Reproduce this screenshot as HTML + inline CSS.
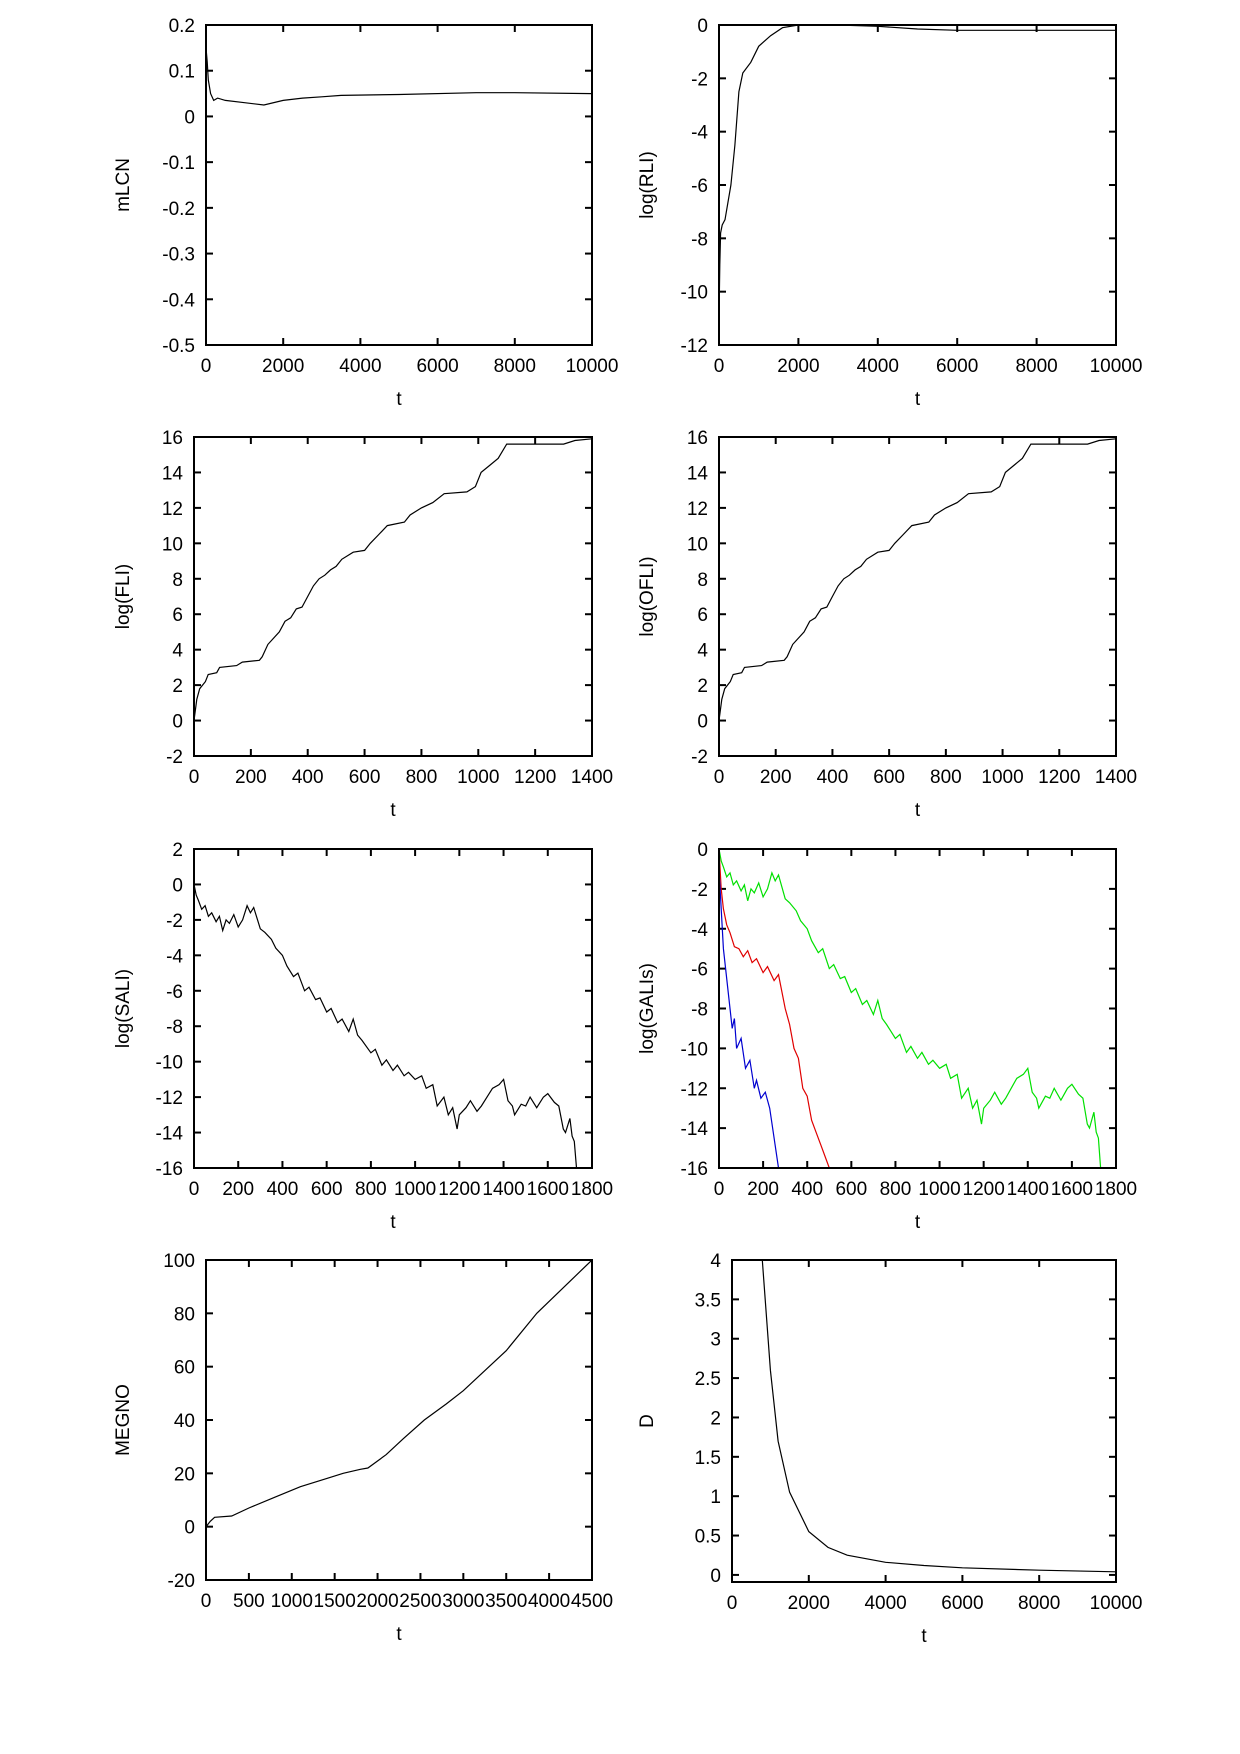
<!DOCTYPE html>
<html><head><meta charset="utf-8"><style>
body{margin:0;background:#fff;}
svg{display:block;font-family:"Liberation Sans",sans-serif;}
</style></head><body>
<svg id="fig" width="1240" height="1754" viewBox="0 0 1240 1754" xmlns="http://www.w3.org/2000/svg"></svg>
<script>
const mlcnT=[0,30,60,120,200,300,500,1000,1500,2000,2500,3000,3500,5000,7000,8000,10000];
const mlcnV=[0.15,0.12,0.08,0.05,0.035,0.04,0.035,0.03,0.025,0.035,0.04,0.043,0.046,0.048,0.052,0.052,0.05];
const rliT=[0,20,40,80,150,300,400,500,600,800,1000,1300,1600,2000,3000,4000,5000,6000,10000];
const rliV=[-11,-9,-7.8,-7.5,-7.3,-6,-4.5,-2.5,-1.8,-1.4,-0.8,-0.4,-0.1,0,0,-0.05,-0.15,-0.2,-0.2];
const fliT=[0,10,20,40,50,80,90,150,170,230,240,260,300,320,340,360,380,400,420,440,460,480,500,520,560,600,620,650,680,740,760,800,840,880,960,990,1010,1040,1070,1100,1300,1340,1400];
const fliV=[0,1.2,1.8,2.2,2.6,2.7,3,3.1,3.3,3.4,3.6,4.3,5,5.6,5.8,6.3,6.4,7,7.6,8,8.2,8.5,8.7,9.1,9.5,9.6,10,10.5,11,11.2,11.6,12,12.3,12.8,12.9,13.2,14,14.4,14.8,15.6,15.6,15.8,15.9];
const ofliV=[0,1.2,1.8,2.2,2.6,2.7,3,3.1,3.3,3.4,3.6,4.3,5,5.6,5.8,6.3,6.4,7,7.6,8,8.2,8.5,8.7,9.1,9.5,9.6,10,10.5,11,11.2,11.6,12,12.3,12.8,12.9,13.2,14,14.4,14.8,15.6,15.6,15.8,15.9];
const saliT=[0,10,20,35,50,65,80,100,115,130,145,160,180,200,220,240,255,270,290,300,320,350,370,400,420,450,470,500,520,550,570,600,620,650,670,700,720,740,760,800,820,850,870,900,920,950,970,1000,1030,1050,1080,1100,1130,1150,1170,1190,1200,1230,1250,1280,1300,1330,1350,1380,1400,1420,1440,1450,1480,1500,1520,1550,1580,1600,1630,1650,1670,1680,1700,1710,1720,1730];
const saliV=[0,-0.6,-0.9,-1.4,-1.2,-1.8,-1.6,-2.1,-1.8,-2.6,-2.0,-2.2,-1.7,-2.4,-2.0,-1.2,-1.6,-1.3,-2.1,-2.5,-2.7,-3.1,-3.6,-4.0,-4.6,-5.2,-5.0,-6.0,-5.8,-6.5,-6.4,-7.2,-7.0,-7.8,-7.6,-8.3,-7.6,-8.5,-8.8,-9.5,-9.3,-10.2,-9.9,-10.5,-10.2,-10.8,-10.6,-11.0,-10.8,-11.5,-11.3,-12.5,-12.0,-13.0,-12.6,-13.8,-13.0,-12.6,-12.2,-12.8,-12.5,-11.9,-11.5,-11.3,-11.0,-12.2,-12.5,-13.0,-12.4,-12.5,-12.0,-12.6,-12.0,-11.8,-12.3,-12.5,-13.8,-14.0,-13.2,-14.2,-14.5,-16];
const galiGreenT=saliT;
const galiGreenV=[0,-0.6,-0.9,-1.4,-1.2,-1.8,-1.6,-2.1,-1.8,-2.6,-2.0,-2.2,-1.7,-2.4,-2.0,-1.2,-1.6,-1.3,-2.1,-2.5,-2.7,-3.1,-3.6,-4.0,-4.6,-5.2,-5.0,-6.0,-5.8,-6.5,-6.4,-7.2,-7.0,-7.8,-7.6,-8.3,-7.6,-8.5,-8.8,-9.5,-9.3,-10.2,-9.9,-10.5,-10.2,-10.8,-10.6,-11.0,-10.8,-11.5,-11.3,-12.5,-12.0,-13.0,-12.6,-13.8,-13.0,-12.6,-12.2,-12.8,-12.5,-11.9,-11.5,-11.3,-11.0,-12.2,-12.5,-13.0,-12.4,-12.5,-12.0,-12.6,-12.0,-11.8,-12.3,-12.5,-13.8,-14.0,-13.2,-14.2,-14.5,-16];
const galiRedT=[0,10,20,35,50,70,90,110,130,150,170,200,220,250,270,300,320,340,360,380,400,420,440,460,480,500];
const galiRedV=[0,-2,-3,-3.8,-4.2,-4.9,-5.0,-5.4,-5.1,-5.7,-5.5,-6.2,-5.9,-6.6,-6.3,-8.0,-8.8,-10.0,-10.5,-12.0,-12.4,-13.6,-14.2,-14.8,-15.4,-16];
const galiBlueT=[0,10,20,30,45,60,70,80,100,120,140,160,170,190,210,230,250,270];
const galiBlueV=[-1,-3,-5,-6,-7.5,-9,-8.5,-10,-9.5,-11,-10.6,-12,-11.6,-12.5,-12.2,-13,-14.5,-16];
const megnoT=[0,50,100,300,500,800,1100,1400,1600,1800,1888,2100,2300,2545,2800,3000,3500,3857,4500];
const megnoV=[0,2,3.5,4,7,11,15,18,20,21.5,22,27,33,40,46,51,66,80,100];
const dT=[790,1000,1200,1500,2000,2500,3000,4000,5000,6000,8000,10000];
const dV=[4,2.6,1.7,1.05,0.55,0.35,0.25,0.16,0.12,0.09,0.06,0.04];

const NS="http://www.w3.org/2000/svg";
const fig=document.getElementById('fig');
function mk(tag,attrs,parent){const e=document.createElementNS(NS,tag);for(const k in attrs)e.setAttribute(k,attrs[k]);(parent||fig).appendChild(e);return e;}

function plot(cfg){
  const g=mk('g',{});
  
  
  const {x0,x1,y0,y1,xmin,xmax,ymin,ymax}=cfg;
  const sx=v=>x0+(v-xmin)/(xmax-xmin)*(x1-x0);
  const sy=v=>y1-(v-ymin)/(ymax-ymin)*(y1-y0);
  cfg.xticks.forEach(t=>{
    const X=sx(t);
    mk('line',{x1:X,y1:y1,x2:X,y2:y1-7,stroke:'#000','stroke-width':2},g);
    mk('line',{x1:X,y1:y0,x2:X,y2:y0+7,stroke:'#000','stroke-width':2},g);
    const tx=mk('text',{x:X,y:y1+27,'text-anchor':'middle','font-size':19},g);
    
    
    tx.textContent=String(t);
  });
  cfg.yticks.forEach(t=>{
    const Y=sy(t);
    mk('line',{x1:x0,y1:Y,x2:x0+7,y2:Y,stroke:'#000','stroke-width':2},g);
    mk('line',{x1:x1,y1:Y,x2:x1-7,y2:Y,stroke:'#000','stroke-width':2},g);
    const tx=mk('text',{x:x0-11,y:Y+7,'text-anchor':'end','font-size':19},g);
    
    
    tx.textContent=String(t);
  });
  const clipId='c'+cfg.name;
  const cp=mk('clipPath',{id:clipId},g);
  mk('rect',{x:x0,y:y0,width:x1-x0,height:y1-y0},cp);
  cfg.series.forEach(s=>{
    const d=s.t.map((t,i)=>(i?'L':'M')+sx(t).toFixed(1)+','+sy(s.v[i]).toFixed(1)).join('');
    const p=mk('path',{d:d,fill:'none',stroke:s.color,'stroke-width':1.2,'clip-path':'url(#'+clipId+')'},g);
    
    
  });
  const r=mk('rect',{x:x0,y:y0,width:x1-x0,height:y1-y0,fill:'none',stroke:'#000','stroke-width':2},g);
  
  
  const xl=mk('text',{x:(x0+x1)/2,y:y1+60,'text-anchor':'middle','font-size':19},g);
  
  
  xl.textContent='t';
  const ly=(y0+y1)/2, lx=cfg.labelX;
  const yl=mk('text',{x:lx,y:ly,'text-anchor':'middle','font-size':19,transform:'rotate(-90 '+lx+' '+ly+')'},g);
  
  
  yl.textContent=cfg.ylabel;
}
const rng=(a,b,s)=>{const r=[];for(let v=a;v<=b+1e-9;v+=s)r.push(Math.round(v*10)/10);return r;};

plot({name:'mlcn',x0:206,x1:592,y0:25,y1:345,xmin:0,xmax:10000,ymin:-0.5,ymax:0.2,xticks:rng(0,10000,2000),yticks:[0.2,0.1,0,-0.1,-0.2,-0.3,-0.4,-0.5],ylabel:'mLCN',labelX:129,series:[{t:mlcnT,v:mlcnV,color:'#000',name:'mlcn-line'}]});
plot({name:'rli',x0:719,x1:1116,y0:25,y1:345,xmin:0,xmax:10000,ymin:-12,ymax:0,xticks:rng(0,10000,2000),yticks:rng(-12,0,2),ylabel:'log(RLI)',labelX:653,series:[{t:rliT,v:rliV,color:'#000',name:'rli-line'}]});
plot({name:'fli',x0:194,x1:592,y0:437,y1:756,xmin:0,xmax:1400,ymin:-2,ymax:16,xticks:rng(0,1400,200),yticks:rng(-2,16,2),ylabel:'log(FLI)',labelX:129,series:[{t:fliT,v:fliV,color:'#000',name:'fli-line'}]});
plot({name:'ofli',x0:719,x1:1116,y0:437,y1:756,xmin:0,xmax:1400,ymin:-2,ymax:16,xticks:rng(0,1400,200),yticks:rng(-2,16,2),ylabel:'log(OFLI)',labelX:653,series:[{t:fliT,v:ofliV,color:'#000',name:'ofli-line'}]});
plot({name:'sali',x0:194,x1:592,y0:849,y1:1168,xmin:0,xmax:1800,ymin:-16,ymax:2,xticks:rng(0,1800,200),yticks:rng(-16,2,2),ylabel:'log(SALI)',labelX:129,series:[{t:saliT,v:saliV,color:'#000',name:'sali-line'}]});
plot({name:'gali',x0:719,x1:1116,y0:849,y1:1168,xmin:0,xmax:1800,ymin:-16,ymax:0,xticks:rng(0,1800,200),yticks:rng(-16,0,2),ylabel:'log(GALIs)',labelX:653,series:[{t:galiGreenT,v:galiGreenV,color:'#00e000',name:'gali2-line'},{t:galiRedT,v:galiRedV,color:'#e00000',name:'gali3-line'},{t:galiBlueT,v:galiBlueV,color:'#0000d0',name:'gali4-line'}]});
plot({name:'megno',x0:206,x1:592,y0:1260,y1:1580,xmin:0,xmax:4500,ymin:-20,ymax:100,xticks:rng(0,4500,500),yticks:rng(-20,100,20),ylabel:'MEGNO',labelX:129,series:[{t:megnoT,v:megnoV,color:'#000',name:'megno-line'}]});
plot({name:'d',x0:732,x1:1116,y0:1260,y1:1582,xmin:0,xmax:10000,ymin:-0.09,ymax:4,xticks:rng(0,10000,2000),yticks:[0,0.5,1,1.5,2,2.5,3,3.5,4],ylabel:'D',labelX:653,series:[{t:dT,v:dV,color:'#000',name:'d-line'}]});
</script>
</body></html>
